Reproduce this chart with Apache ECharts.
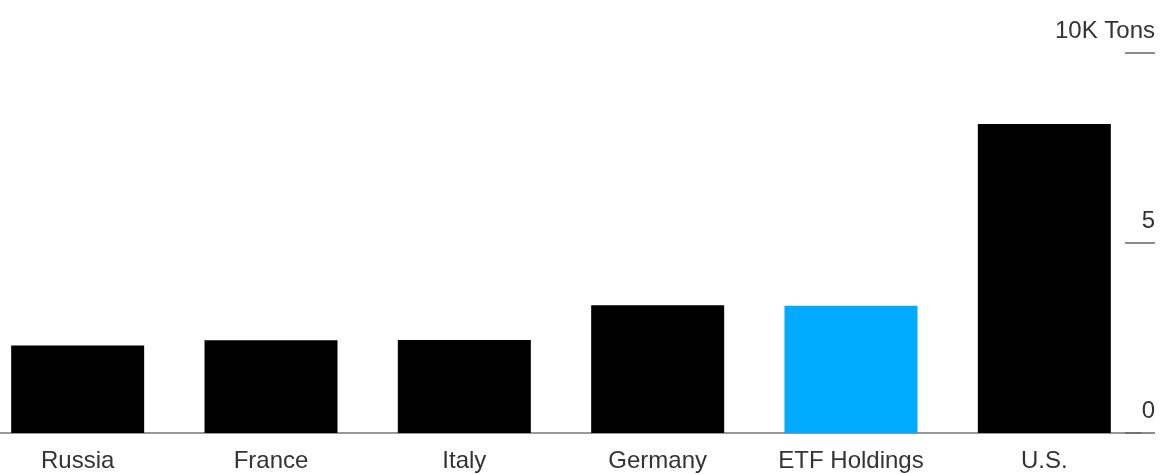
<!DOCTYPE html>
<html>
<head>
<meta charset="utf-8">
<script src="https://cdn.jsdelivr.net/npm/echarts@6/dist/echarts.min.js"></script>
<style>
html,body{margin:0;padding:0;background:#fff;overflow:hidden;}
#chart{width:1181px;height:474px;margin-left:-19px;}
</style>
</head>
<body>
<div id="chart"></div>
<script>
var categories = ['Russia', 'France', 'Italy', 'Germany', 'ETF Holdings', 'U.S.'];
var values = [2.30, 2.44, 2.45, 3.36, 3.35, 8.13];
var highlightCategory = 'ETF Holdings';
var yTickLabels = {0: '0', 5: '5', 10: '10K Tons'};

var chart = echarts.init(document.getElementById('chart'));
chart.setOption({
  animation: false,
  backgroundColor: '#fff',
  grid: {left: 0, right: 21, top: 53, bottom: 41, containLabel: false},
  xAxis: {
    type: 'category',
    data: categories,
    axisLine: {show: true, lineStyle: {color: '#777', width: 1.5}},
    axisTick: {show: false},
    axisLabel: {
      margin: 16,
      color: '#333',
      fontFamily: 'Liberation Sans',
      fontSize: 24,
      interval: 0
    }
  },
  yAxis: {
    type: 'value',
    position: 'right',
    offset: 14,
    min: 0, max: 10, interval: 5,
    splitLine: {show: false},
    axisLine: {show: false},
    axisTick: {show: true, inside: true, length: 30, lineStyle: {color: '#666', width: 1.5}},
    axisLabel: {
      inside: true,
      margin: 0,
      color: '#333',
      fontFamily: 'Liberation Sans',
      fontSize: 24,
      verticalAlign: 'bottom',
      padding: [0, 0, 10, 0],
      formatter: function (v) { return yTickLabels[v] !== undefined ? yTickLabels[v] : ''; }
    }
  },
  series: [{
    type: 'bar',
    barWidth: 133,
    data: values.map(function (v, i) {
      return {value: v, itemStyle: {color: categories[i] === highlightCategory ? '#00AAFF' : '#000'}};
    })
  }]
});
</script>
</body>
</html>
